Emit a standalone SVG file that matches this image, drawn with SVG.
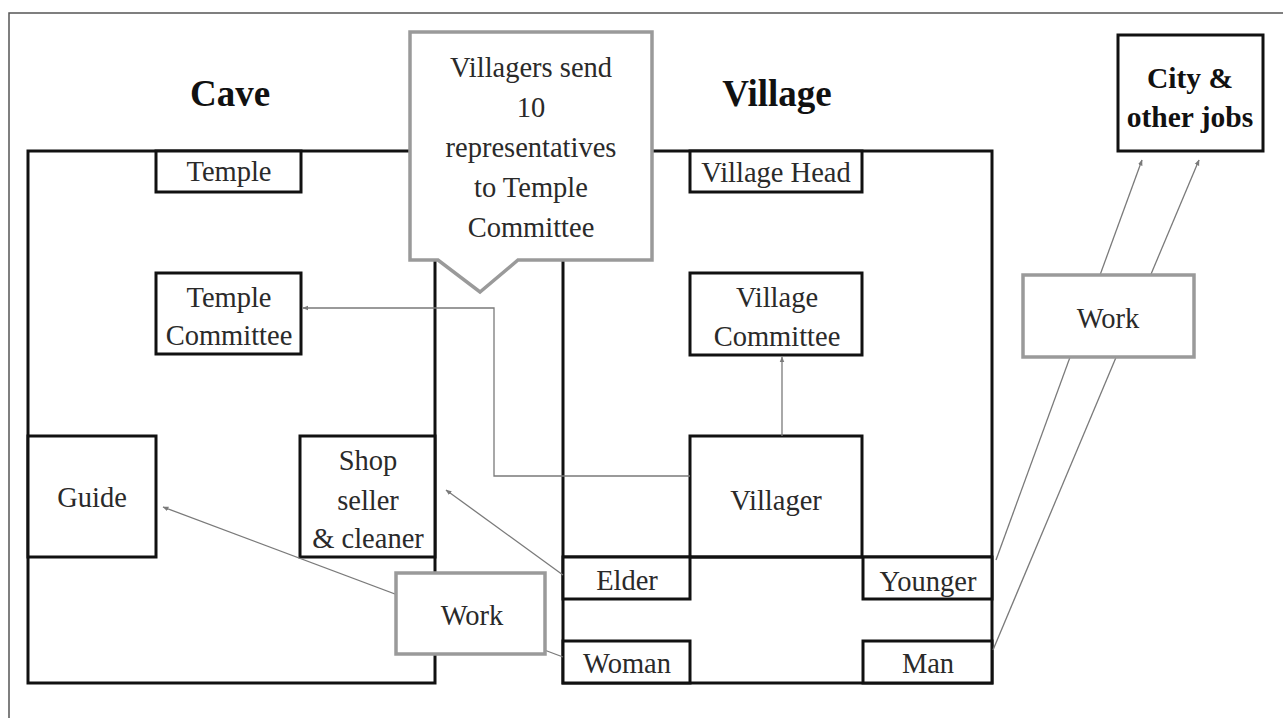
<svg xmlns="http://www.w3.org/2000/svg" width="1283" height="718" viewBox="0 0 1283 718">
  <style>
    .area { fill: none; stroke: #111; stroke-width: 3; }
    .box { fill: #fff; stroke: #111; stroke-width: 3; }
    .soft { fill: #fff; stroke: #9a9a9a; stroke-width: 3.5; }
    .lbl { font-family: "Liberation Serif", "Times New Roman", serif; font-size: 28.5px; fill: #2a2a2a; text-anchor: middle; }
    .head { font-family: "Liberation Serif", "Times New Roman", serif; font-size: 37px; font-weight: bold; fill: #111; text-anchor: middle; }
    .headS { font-family: "Liberation Serif", "Times New Roman", serif; font-size: 29.5px; font-weight: bold; fill: #111; text-anchor: middle; }
    .link { fill: none; stroke: #7a7a7a; stroke-width: 1.3; marker-end: url(#arrow); }
  </style>
  <defs>
    <marker id="arrow" viewBox="0 0 10 10" refX="9" refY="5" markerWidth="6" markerHeight="6" orient="auto-start-reverse" markerUnits="userSpaceOnUse">
      <path d="M0,1 L10,5 L0,9 z" fill="#7a7a7a"/>
    </marker>
  </defs>

  <rect width="1283" height="718" fill="#fff"/>

  <!-- page frame -->
  <path d="M9,718 V13 H1283" fill="none" stroke="#555" stroke-width="1.5"/>

  <!-- headings -->
  <text class="head" x="230" y="106">Cave</text>
  <text class="head" x="777" y="106">Village</text>

  <!-- areas -->
  <g id="cave">
    <rect class="area" x="28" y="151" width="407" height="532"/>
  </g>
  <g id="village">
    <rect class="area" x="563" y="151" width="429" height="532"/>
  </g>

  <!-- cave nodes -->
  <g id="temple">
    <rect class="box" x="156" y="151" width="145" height="41"/>
    <text class="lbl" x="229" y="181">Temple</text>
  </g>
  <g id="temple-committee">
    <rect class="box" x="156" y="273" width="145" height="81"/>
    <text class="lbl" x="229" y="307">Temple</text>
    <text class="lbl" x="229" y="345">Committee</text>
  </g>
  <g id="guide">
    <rect class="box" x="28" y="436" width="128" height="121"/>
    <text class="lbl" x="92" y="507">Guide</text>
  </g>
  <g id="shop">
    <rect class="box" x="300" y="436" width="135" height="121"/>
    <text class="lbl" x="368" y="470">Shop</text>
    <text class="lbl" x="368" y="510">seller</text>
    <text class="lbl" x="368" y="548">&amp; cleaner</text>
  </g>

  <!-- village nodes -->
  <g id="village-head">
    <rect class="box" x="690" y="151" width="172" height="41"/>
    <text class="lbl" x="776" y="182">Village Head</text>
  </g>
  <g id="village-committee">
    <rect class="box" x="690" y="273" width="172" height="82"/>
    <text class="lbl" x="777" y="307">Village</text>
    <text class="lbl" x="777" y="346">Committee</text>
  </g>
  <g id="villager">
    <rect class="box" x="690" y="436" width="172" height="121"/>
    <text class="lbl" x="776" y="510">Villager</text>
  </g>
  <line x1="563" y1="557" x2="992" y2="557" stroke="#111" stroke-width="3"/>
  <g id="elder">
    <rect class="box" x="563" y="557" width="127" height="42"/>
    <text class="lbl" x="627" y="590">Elder</text>
  </g>
  <g id="younger">
    <rect class="box" x="863" y="557" width="129" height="42"/>
    <text class="lbl" x="928" y="591">Younger</text>
  </g>
  <g id="woman">
    <rect class="box" x="563" y="641" width="127" height="42"/>
    <text class="lbl" x="627" y="673">Woman</text>
  </g>
  <g id="man">
    <rect class="box" x="863" y="641" width="129" height="42"/>
    <text class="lbl" x="928" y="673">Man</text>
  </g>

  <!-- outside node -->
  <g id="city">
    <rect class="box" x="1118" y="35" width="145" height="116"/>
    <text class="headS" x="1190" y="88">City &amp;</text>
    <text class="headS" x="1190" y="127">other jobs</text>
  </g>

  <!-- connectors -->
  <g id="connectors">
    <path class="link" d="M690,476 H494 V308 H303"/>
    <path class="link" d="M782,436 V357"/>
    <path class="link" d="M563,575 L446,490"/>
    <path class="link" d="M563,657 L163,507"/>
    <path class="link" d="M996,560 L1142,160"/>
    <path class="link" d="M993,650 L1199,160"/>
  </g>

  <!-- work boxes drawn over the connectors that run behind them -->
  <g id="work-cave">
    <rect class="soft" x="396" y="573" width="149" height="81"/>
    <text class="lbl" x="472" y="625">Work</text>
  </g>
  <g id="work-city">
    <rect class="soft" x="1023" y="275" width="171" height="82"/>
    <text class="lbl" x="1108" y="328">Work</text>
  </g>

  <!-- callout -->
  <g id="representatives">
    <path class="soft" d="M410,32 H652 V260 H518 L480,292 L438,260 H410 Z"/>
    <text class="lbl" x="531" y="77">Villagers send</text>
    <text class="lbl" x="531" y="117">10</text>
    <text class="lbl" x="531" y="157">representatives</text>
    <text class="lbl" x="531" y="197">to Temple</text>
    <text class="lbl" x="531" y="237">Committee</text>
  </g>
</svg>
